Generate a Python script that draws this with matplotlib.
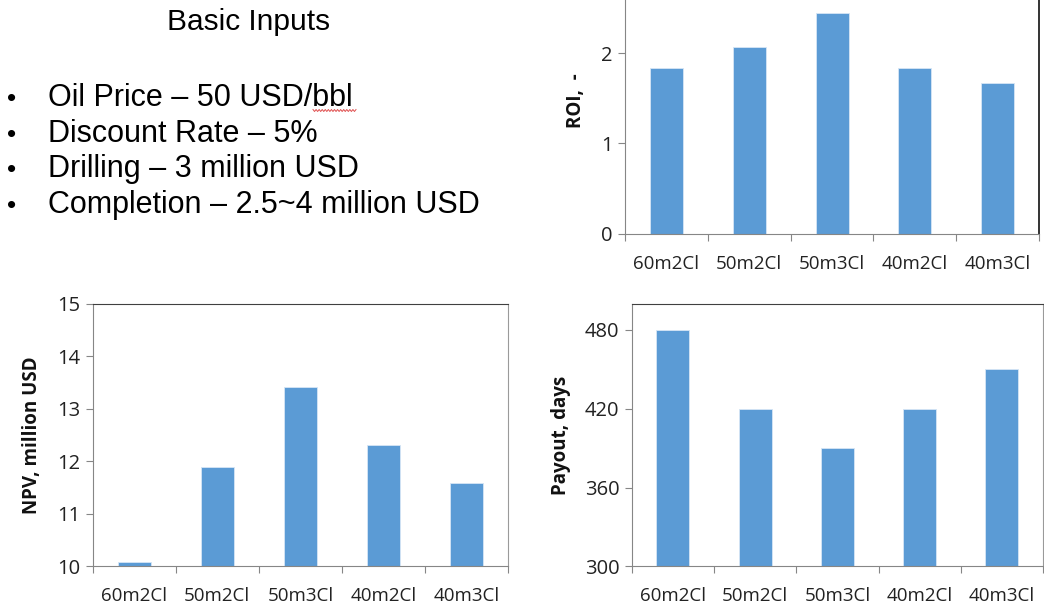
import numpy as np
import matplotlib
matplotlib.use("Agg")
import matplotlib.pyplot as plt

cases = ["60m2Cl", "50m2Cl", "50m3Cl", "40m2Cl", "40m3Cl"]
roi = [1.83, 2.07, 2.44, 1.83, 1.665]
npv = [10.08, 11.89, 13.41, 12.31, 11.58]
payout = [480, 420, 390, 420, 450]

inputs_title = "Basic Inputs"
inputs = [
    "Oil Price \u2013 50 USD/bbl",
    "Discount Rate \u2013 5%",
    "Drilling \u2013 3 million USD",
    "Completion \u2013 2.5~4 million USD",
]

BAR = "#5B9BD5"
TICKFONT = "Open Sans"

fig = plt.figure(figsize=(10.44, 6.09), dpi=100)


def bar_panel(rect, values, ylim, yticks, ylabel, label_xy, top=True):
    ax = fig.add_axes(rect)
    x = np.arange(len(cases))
    ax.bar(x, np.array(values) - ylim[0], width=0.4, bottom=ylim[0], color=BAR,
           edgecolor="#d6e6f5", linewidth=0.6, zorder=2)
    ax.set_xlim(-0.5, len(cases) - 0.5)
    ax.set_ylim(*ylim)
    # boundary ticks between categories, labels centred on the bars
    ax.set_xticks(np.arange(-0.5, len(cases)), labels=[""] * (len(cases) + 1))
    ax.set_xticks(x, labels=cases, minor=True)
    ax.tick_params(axis="x", which="major", direction="out", length=5,
                   color="#868686", width=0.8)
    ax.tick_params(axis="x", which="minor", length=0, pad=15,
                   labelsize=13.5, labelcolor="#222222")
    ax.set_yticks(yticks)
    ax.tick_params(axis="y", direction="out", length=5, color="#868686",
                   width=0.8, labelsize=14.5, labelcolor="#222222", pad=4)
    for lbl in ax.get_xticklabels(minor=True) + ax.get_yticklabels():
        lbl.set_fontfamily(TICKFONT)
    ax.set_ylabel(ylabel, fontsize=13.5, fontweight="bold", fontfamily=TICKFONT,
                  color="#111111")
    ax.yaxis.set_label_coords(*label_xy)
    ax.spines["left"].set_color("#868686")
    ax.spines["bottom"].set_color("#868686")
    ax.spines["right"].set_color("#9a9a9a")
    ax.spines["top"].set_color("#404040")
    ax.spines["top"].set_visible(top)
    return ax


roi_ax = bar_panel([0.5987, 0.6158, 0.3966, 0.3842], roi, (0, 2.586), [0, 1, 2],
                   "ROI,  -", (-0.094, 0.57), top=False)
roi_ax.spines["right"].set_color("#111111")
roi_ax.spines["right"].set_linewidth(1.2)

bar_panel([0.0888, 0.0701, 0.3978, 0.4312], npv, (10, 15), [10, 11, 12, 13, 14, 15],
          "NPV, million USD", (-0.122, 0.5))

bar_panel([0.6051, 0.0701, 0.394, 0.4312], payout, (300, 500), [300, 360, 420, 480],
          "Payout, days", (-0.148, 0.5))

# text block with the economic assumptions
W, H = 1044.0, 609.0
fig.text(249 / W, 1 - 22 / H, inputs_title, fontsize=21.5, family="Liberation Sans",
         ha="center", va="center")
for i, line in enumerate(inputs):
    yb = 1 - (106 + i * 35.7) / H
    fig.text(7 / W, yb, "\u2022", fontsize=19, family="Liberation Sans",
             ha="left", va="baseline")
    fig.text(48 / W, yb, line, fontsize=22, family="Liberation Sans",
             ha="left", va="baseline")

# spell-check squiggle under "bbl"
sx = np.linspace(313, 356, 29)
sy = 110.5 + np.where(np.arange(29) % 2 == 0, -1.0, 1.0)
fig.add_artist(plt.Line2D(sx / W, 1 - sy / H, color="#e05050", linewidth=0.7))

fig.savefig("out.png", dpi=100)
